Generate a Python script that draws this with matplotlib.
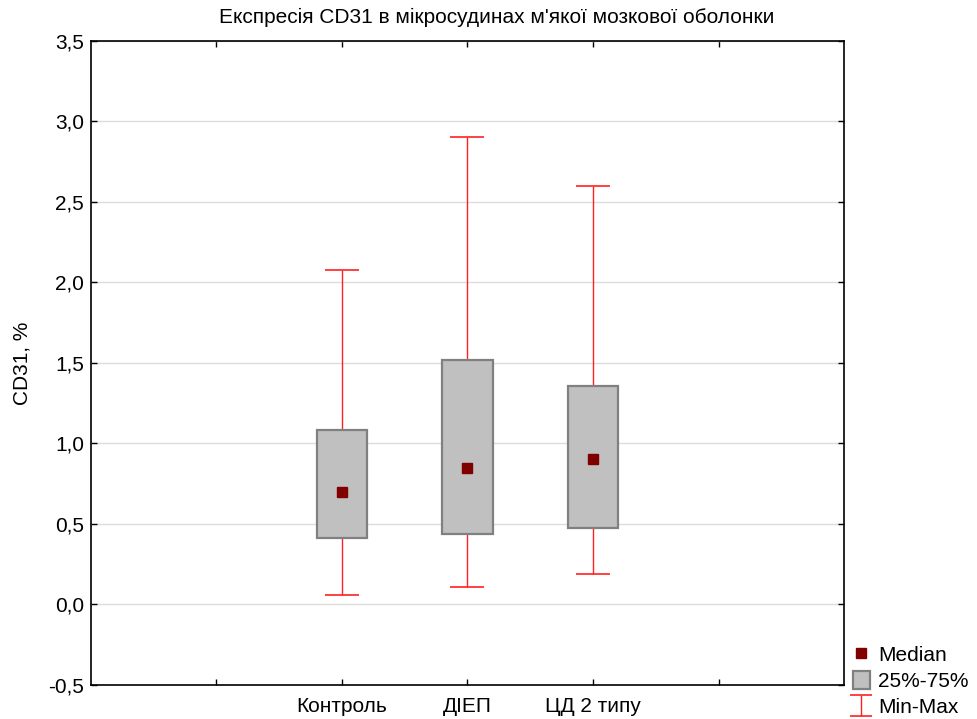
import numpy as np
import matplotlib
matplotlib.use("Agg")
import matplotlib.pyplot as plt
from matplotlib.patches import Patch
from matplotlib.lines import Line2D

plt.rcParams['font.family'] = ['Liberation Sans', 'DejaVu Sans']

# data
groups = ['Контроль', 'ДІЕП', 'ЦД 2 типу']
med = [0.70, 0.85, 0.905]
q1 = [0.41, 0.435, 0.475]
q3 = [1.085, 1.52, 1.355]
vmin = [0.06, 0.11, 0.19]
vmax = [2.08, 2.905, 2.60]

pos = np.array([2, 3, 4])

fig = plt.figure(figsize=(9.77, 7.19), dpi=100)
ax = fig.add_axes([0.0931, 0.0473, 0.7708, 0.8957])

ax.set_xlim(0, 6)
ax.set_ylim(-0.5, 3.5)
ax.set_yticks(np.arange(-0.5, 3.51, 0.5))
ax.set_yticklabels([('%.1f' % v).replace('.', ',') for v in np.arange(-0.5, 3.51, 0.5)])
ax.set_xticks([1, 2, 3, 4, 5])
ax.set_xticklabels(['', groups[0], groups[1], groups[2], ''])
ax.tick_params(axis='both', direction='in', length=4, width=1, labelsize=15,
               top=True, right=True, pad=5)
ax.tick_params(axis='x', pad=9)
ax.grid(axis='y', color='#dcdcdc', lw=1)
ax.set_axisbelow(True)
for s in ax.spines.values():
    s.set_linewidth(1.2)

# whiskers min-max
med_a = np.array(med)
err = [med_a - np.array(vmin), np.array(vmax) - med_a]
ax.errorbar(pos, med, yerr=err, fmt='none', ecolor='#ff2020', elinewidth=1,
            capsize=12.5, capthick=1.2, zorder=2)

# boxes
ax.bar(pos, np.array(q3) - np.array(q1), bottom=q1, width=0.4,
       color='#c0c0c0', edgecolor='#808080', linewidth=1.6, zorder=3)

# medians
ax.plot(pos, med, ls='none', marker='s', ms=7.5, color='#800000', zorder=4)

fig.text(0.508, 0.976, "Експресія CD31 в мікросудинах м'якої мозкової оболонки",
         fontsize=15, ha='center', va='center')
ax.set_ylabel('CD31, %', fontsize=15, labelpad=12)

# legend-only errorbar with small caps
leg_eb = ax.errorbar([np.nan], [np.nan], yerr=[[1], [1]], fmt='none',
                     ecolor='#ff2020', elinewidth=1, capsize=8, capthick=1.2)

handles = [Line2D([], [], ls='none', marker='s', ms=7, color='#800000'),
           Patch(facecolor='#c0c0c0', edgecolor='#808080', linewidth=1.6),
           leg_eb]
fig.legend(handles, ['Median', '25%-75%', 'Min-Max'], loc='lower left',
           bbox_to_anchor=(0.858, -0.018), frameon=False, fontsize=15,
           handlelength=0.8, handleheight=0.9, handletextpad=0.4,
           labelspacing=0.3, borderaxespad=0.3)

plt.savefig('out.png', dpi=100)
